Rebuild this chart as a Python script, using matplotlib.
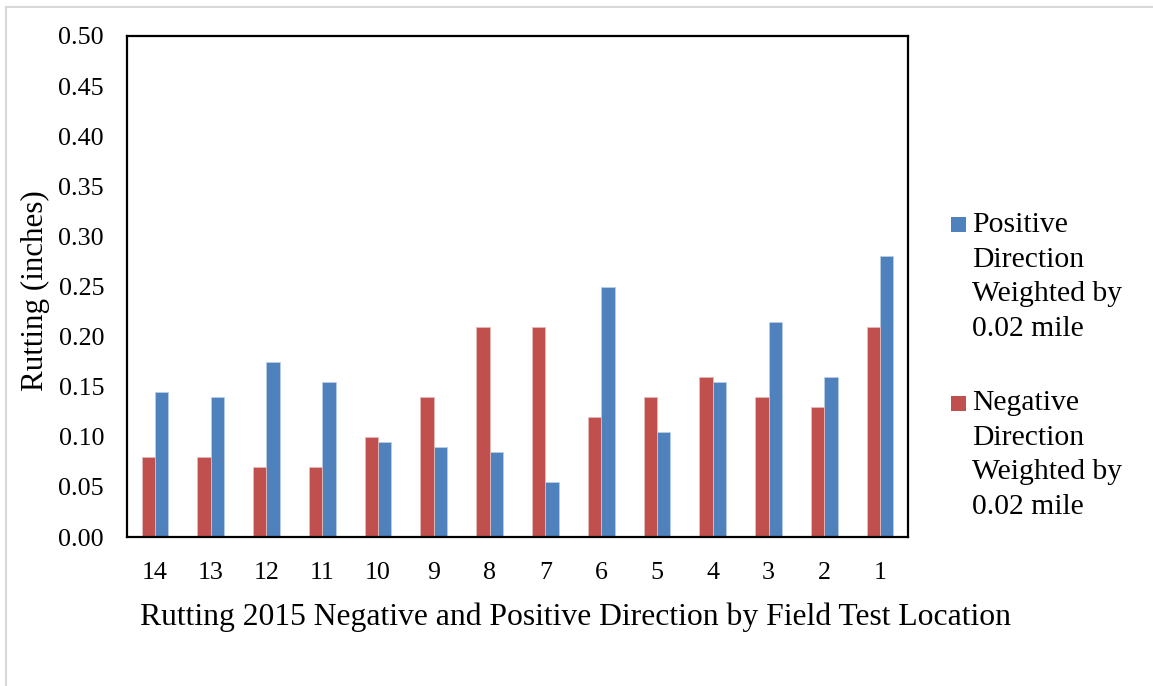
import numpy as np
import matplotlib
matplotlib.use("Agg")
import matplotlib.pyplot as plt
from matplotlib.lines import Line2D
from matplotlib.patches import Rectangle

locations = ["14", "13", "12", "11", "10", "9", "8", "7", "6", "5", "4", "3", "2", "1"]
negative = [0.08, 0.08, 0.07, 0.07, 0.10, 0.14, 0.21, 0.21, 0.12, 0.14, 0.16, 0.14, 0.13, 0.21]
positive = [0.145, 0.14, 0.175, 0.155, 0.095, 0.09, 0.085, 0.055, 0.25, 0.105, 0.155, 0.215, 0.16, 0.28]
y_ticks = [0.00, 0.05, 0.10, 0.15, 0.20, 0.25, 0.30, 0.35, 0.40, 0.45, 0.50]
legend_labels = [["Positive", "Direction", "Weighted by", "0.02 mile"],
                 ["Negative", "Direction", "Weighted by", "0.02 mile"]]

plt.rcParams['font.family'] = ['Liberation Serif', 'DejaVu Serif']
FS_TICK = 18.7
FS_XLAB = 22.8
FS_YLAB = 22.3
FS_LEG = 21.3

W, H = 1153, 686
fig = plt.figure(figsize=(W/100, H/100), dpi=100)
ax = fig.add_axes([127/W, 1-537/H, (908-127)/W, (537-36)/H])

x = np.arange(len(locations))
w = 0.24
red = "#C0504D"
blue = "#4F81BD"
b_pos = ax.bar(x + w/2, positive, w, color=blue, edgecolor="#b9cde5", linewidth=0.6)
b_neg = ax.bar(x - w/2, negative, w, color=red, edgecolor="#e6b9b8", linewidth=0.6)

ax.set_xlim(-0.5, len(locations) - 0.5)
ax.set_ylim(0, 0.5)
ax.set_xticks(x)
ax.set_xticklabels(locations, fontsize=FS_TICK)
ax.set_yticks(y_ticks)
ax.set_yticklabels([f"{v:.2f}" for v in y_ticks], fontsize=FS_TICK)
ax.tick_params(axis='both', length=0)
ax.tick_params(axis='y', pad=16.5)
ax.tick_params(axis='x', pad=18)
for s in ax.spines.values():
    s.set_linewidth(1.6)
    s.set_color("black")

ax.set_ylabel("Rutting (inches)", fontsize=FS_YLAB)
ax.yaxis.label.set_verticalalignment('center')
ax.yaxis.set_label_coords((35-127)/781, (537-291)/501)
ax.set_xlabel("Rutting 2015 Negative and Positive Direction by Field Test Location", fontsize=FS_XLAB)
ax.xaxis.label.set_verticalalignment('baseline')
ax.xaxis.set_label_coords((575-127)/781, -(625-537)/501)

# legend drawn manually: square aligned with first line of each multi-line label
entries = [(b_pos.patches[0].get_facecolor(), legend_labels[0], 224.5, 232),
           (b_neg.patches[0].get_facecolor(), legend_labels[1], 403, 410)]
line_step = 34.6
sq = 15
for color, lines, sq_cy, base0 in entries:
    fig.add_artist(Rectangle((951/W, 1-(sq_cy+sq/2)/H), sq/W, sq/H,
                             transform=fig.transFigure, facecolor=color, edgecolor='none'))
    for i, line in enumerate(lines):
        fig.text(972/W, 1-(base0 + i*line_step)/H, line, fontsize=FS_LEG,
                 ha='left', va='baseline')

# outer light-grey frame lines
fig.add_artist(Line2D([6/W, 1], [1-7/H, 1-7/H], transform=fig.transFigure, color="#d9d9d9", lw=1.5))
fig.add_artist(Line2D([6/W, 6/W], [0, 1-7/H], transform=fig.transFigure, color="#d9d9d9", lw=1.5))

fig.savefig("out.png", dpi=100)
